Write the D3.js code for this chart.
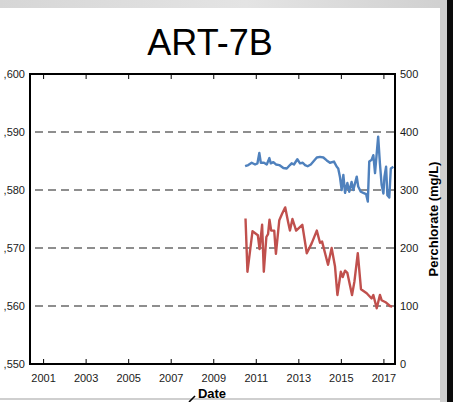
<!DOCTYPE html>
<html>
<head>
<meta charset="utf-8">
<script src="https://cdn.jsdelivr.net/npm/d3@7"></script>
<style>
  html, body { margin: 0; padding: 0; background: #fff; }
  svg { display: block; font-family: "Liberation Sans", Arial, sans-serif; }
</style>
</head>
<body>
<svg id="chart" width="475" height="402"></svg>
<script>
// Well ART-7B: groundwater elevation (ft, left axis) and perchlorate (mg/L, right axis)
const elevDates = [
  "2010-07-02","2010-08-25","2010-10-23","2010-12-20","2011-01-30","2011-03-03","2011-03-29",
  "2011-05-22","2011-07-09","2011-08-22","2011-09-16","2011-10-30","2011-12-13","2012-02-09",
  "2012-04-19","2012-06-16","2012-08-10","2012-09-08","2012-10-18","2012-12-15","2013-01-30",
  "2013-03-18","2013-04-27","2013-06-10","2013-08-03","2013-09-16","2013-11-14","2014-01-08",
  "2014-03-07","2014-05-04","2014-06-28","2014-09-05","2014-10-23","2014-11-17","2014-12-16",
  "2015-01-15","2015-02-13","2015-03-14","2015-04-23","2015-05-26","2015-07-05","2015-08-03",
  "2015-10-01","2015-10-26","2015-12-09","2016-01-22","2016-03-09","2016-04-08","2016-05-03",
  "2016-06-12","2016-07-12","2016-08-10","2016-09-08","2016-10-03","2016-11-02","2016-12-01",
  "2017-01-01","2017-01-19","2017-02-16","2017-03-10","2017-04-12","2017-05-08","2017-06-21"
];
const elevValues = [
  5584.1,5584.3,5584.7,5584.4,5584.6,5586.4,5584.7,
  5584.7,5584.4,5585.5,5584.6,5584.8,5584.4,5584.3,
  5583.8,5583.7,5584.3,5584.6,5584.4,5585.3,5584.6,
  5584.7,5584.3,5584.1,5584.4,5584.9,5585.6,5585.7,
  5585.6,5585.1,5584.7,5584.9,5584.0,5583.7,5582.3,
  5580.0,5582.6,5579.5,5581.2,5579.7,5581.4,5580.0,
  5582.3,5580.6,5579.7,5579.5,5579.3,5578.0,5584.9,
  5585.2,5586.0,5582.9,5586.3,5589.2,5584.6,5580.9,
  5579.4,5582.3,5584.0,5579.1,5578.7,5583.7,5584.0
];

const perchDates = [
  "2010-07-09","2010-08-11","2010-11-06","2011-02-06","2011-03-07","2011-04-20","2011-05-19",
  "2011-07-02","2011-07-31","2011-08-25","2011-09-23","2011-11-14","2011-12-13","2012-02-09",
  "2012-03-28","2012-05-21","2012-07-11","2012-08-10","2012-09-22","2012-11-24","2013-03-10",
  "2013-05-26","2013-08-18","2013-11-14","2014-01-08","2014-02-13","2014-05-26","2014-07-27",
  "2014-09-23","2014-11-03","2015-01-01","2015-02-02","2015-03-14","2015-04-23","2015-07-12",
  "2015-08-22","2015-10-19","2015-12-13","2016-03-20","2016-06-12","2016-07-12","2016-09-08",
  "2016-11-02","2016-12-01","2017-02-16","2017-04-23","2017-06-02"
];
const perchValues = [
  251,159,229,222,198,240,159,
  219,224,249,230,230,190,248,
  259,270,244,230,250,230,240,
  191,208,230,209,211,171,200,
  168,119,159,150,161,157,119,
  142,191,129,122,113,119,96,
  119,110,106,100,99
];

const leftTicks = [5550, 5560, 5570, 5580, 5590, 5600];
const rightTicks = [0, 100, 200, 300, 400, 500];
const gridTicks = [5560, 5570, 5580, 5590];
const yearTicks = [2001, 2003, 2005, 2007, 2009, 2011, 2013, 2015, 2017];

const parse = d3.timeParse("%Y-%m-%d");
const elev = elevDates.map((d, i) => ({ date: parse(d), value: elevValues[i] }));
const perch = perchDates.map((d, i) => ({ date: parse(d), value: perchValues[i] }));

const svg = d3.select("#chart");
const W = 475, H = 402;
const plot = { left: 30, right: 395, top: 74, bottom: 364 };

// page frame around the figure
const defs = svg.append("defs");
const topGrad = defs.append("linearGradient").attr("id", "topGrad");
topGrad.append("stop").attr("offset", "0%").attr("stop-color", "#d6d6d6");
topGrad.append("stop").attr("offset", "55%").attr("stop-color", "#e4e4e4");
topGrad.append("stop").attr("offset", "100%").attr("stop-color", "#d0d0d0");
svg.append("rect").attr("x", 0).attr("y", 0).attr("width", W).attr("height", H).attr("fill", "#fff");
svg.append("rect").attr("x", 0).attr("y", 0).attr("width", 447).attr("height", 8).attr("fill", "url(#topGrad)");
svg.append("rect").attr("x", 440).attr("y", 0).attr("width", 7).attr("height", H).attr("fill", "#cfcfcf");
svg.append("rect").attr("x", 447).attr("y", 0).attr("width", 6).attr("height", H).attr("fill", "#0a0a0a");
svg.append("rect").attr("x", 0).attr("y", 398).attr("width", 440).attr("height", 2).attr("fill", "#cfcfcf");

// scales
const x = d3.scaleTime()
  .domain([new Date(2000, 4, 21), new Date(2017, 6, 19)])
  .range([plot.left, plot.right]);
const yL = d3.scaleLinear().domain([5550, 5600]).range([plot.bottom, plot.top]);
const yR = d3.scaleLinear().domain([0, 500]).range([plot.bottom, plot.top]);
const yearDates = yearTicks.map(y => new Date(y, 0, 1));

// dashed gridlines
svg.append("g")
  .selectAll("line")
  .data(gridTicks)
  .join("line")
  .attr("x1", plot.left + 1).attr("x2", plot.right)
  .attr("y1", d => yL(d)).attr("y2", d => yL(d))
  .attr("stroke", "#6a6a6a")
  .attr("stroke-width", 1.4)
  .attr("stroke-dasharray", "8,5")
  .attr("stroke-dashoffset", -4);

// series
const lineL = d3.line().x(d => x(d.date)).y(d => yL(d.value));
const lineR = d3.line().x(d => x(d.date)).y(d => yR(d.value));
svg.append("path").datum(elev).attr("d", lineL)
  .attr("fill", "none").attr("stroke", "#4f81bd").attr("stroke-width", 2.4)
  .attr("stroke-linejoin", "round");
svg.append("path").datum(perch).attr("d", lineR)
  .attr("fill", "none").attr("stroke", "#c0504d").attr("stroke-width", 2.4)
  .attr("stroke-linejoin", "round");

// frame and inward ticks
const axisStyle = g => {
  g.select(".domain").remove();
  g.selectAll(".tick line").attr("stroke", "#000").attr("stroke-width", 1);
  g.selectAll(".tick text").attr("fill", "#1a1a1a")
    .attr("font-family", "'Liberation Sans', Arial, sans-serif").attr("font-size", 11);
};

svg.append("g")
  .attr("transform", `translate(0,${plot.bottom})`)
  .call(d3.axisBottom(x).tickValues(yearDates).tickFormat(d3.timeFormat("%Y"))
    .tickSizeInner(-5).tickSizeOuter(0).tickPadding(10))
  .call(axisStyle);

svg.append("g")
  .attr("transform", `translate(0,${plot.top})`)
  .call(d3.axisTop(x).tickValues(yearDates).tickFormat("").tickSizeInner(-5).tickSizeOuter(0))
  .call(axisStyle);

svg.append("g")
  .attr("transform", `translate(${plot.left},0)`)
  .call(d3.axisLeft(yL).tickValues(leftTicks).tickFormat(d => "," + d3.format("03d")(d % 1000))
    .tickSize(0).tickPadding(5))
  .call(axisStyle);

svg.append("g")
  .attr("transform", `translate(${plot.right},0)`)
  .call(d3.axisRight(yR).tickValues(rightTicks).tickFormat(d3.format("d"))
    .tickSize(0).tickPadding(5))
  .call(axisStyle);

svg.append("rect")
  .attr("x", plot.left).attr("y", plot.top)
  .attr("width", plot.right - plot.left).attr("height", plot.bottom - plot.top)
  .attr("fill", "none").attr("stroke", "#000").attr("stroke-width", 2);

// titles
svg.append("text")
  .attr("x", 210).attr("y", 55)
  .attr("text-anchor", "middle")
  .attr("font-size", 36).attr("fill", "#000")
  .text("ART-7B");

svg.append("text")
  .attr("transform", `translate(433,219) rotate(-90)`)
  .attr("text-anchor", "middle").attr("dominant-baseline", "central")
  .attr("font-size", 13).attr("font-weight", "bold").attr("fill", "#000")
  .text("Perchlorate (mg/L)");

svg.append("text")
  .attr("x", 212).attr("y", 398)
  .attr("text-anchor", "middle")
  .attr("font-size", 13).attr("font-weight", "bold").attr("fill", "#000")
  .text("Date");

// small pointer stroke beside the date label
svg.append("path")
  .attr("d", "M189,402 L195,396")
  .attr("stroke", "#000").attr("stroke-width", 1.6).attr("fill", "none");
</script>
</body>
</html>
